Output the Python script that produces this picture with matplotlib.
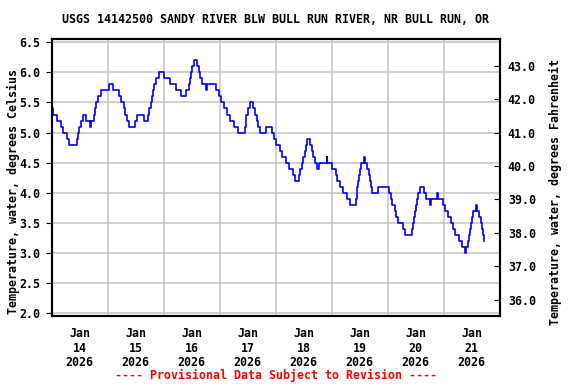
import datetime as dt
import matplotlib
matplotlib.use("Agg")
import matplotlib.pyplot as plt
import matplotlib.dates as mdates
from matplotlib.ticker import FormatStrFormatter, MultipleLocator

# change points: hours after 2026-01-14 00:00, temperature in deg C
hours = [0, 0.7, 2.4, 3.9, 5.0, 6.4, 7.6, 11.0, 11.4, 11.8, 12.6, 13.6, 14.6, 16.2, 16.8,
         18.0, 18.6, 19.1, 20.0, 21.1, 24.5, 26.1, 28.8, 29.8, 30.8, 31.6, 32.4, 33.2, 35.8,
         36.5, 39.7, 41.1, 41.7, 42.5, 43.0, 43.5, 44.0, 44.7, 46.0, 48.3, 50.7, 53.1, 55.4,
         57.7, 58.9, 59.2, 59.6, 60.3, 61.0, 62.3, 63.0, 63.6, 64.4, 66.0, 66.6, 70.3, 71.7,
         72.6, 73.9, 75.2, 76.6, 78.1, 80.0, 82.7, 83.1, 83.5, 84.0, 85.0, 86.4, 87.2, 88.0,
         88.6, 89.3, 91.9, 94.6, 95.3, 96.2, 97.9, 98.9, 100.5, 101.7, 103.3, 104.3, 105.9,
         106.6, 107.2, 107.9, 108.6, 109.2, 109.6, 110.7, 111.4, 112.2, 113.1, 113.9, 114.6,
         117.9, 118.2, 120.0, 121.9, 122.4, 123.6, 125.0, 126.4, 127.9, 130.4, 130.7, 131.1,
         131.4, 131.9, 132.3, 132.8, 133.9, 134.3, 135.3, 135.9, 136.4, 136.9, 137.4, 140.0,
         144.5, 145.3, 146.1, 147.0, 147.8, 148.5, 150.8, 151.6, 154.5, 155.0, 155.4, 155.7,
         156.0, 156.5, 157.1, 157.7, 159.6, 160.3, 162.4, 162.8, 165.2, 165.6, 167.9, 168.8,
         169.9, 171.0, 172.0, 172.8, 174.5, 175.8, 177.0, 177.7, 178.3, 178.9, 179.3, 179.7,
         180.1, 180.6, 181.8, 182.2, 183.0, 184.2, 184.7, 185.1, 185.4]
temp_c = [5.4, 5.3, 5.2, 5.1, 5.0, 4.9, 4.8, 4.9, 5.0, 5.1, 5.2, 5.3, 5.2, 5.1, 5.2,
          5.3, 5.4, 5.5, 5.6, 5.7, 5.8, 5.7, 5.6, 5.5, 5.4, 5.3, 5.2, 5.1, 5.2,
          5.3, 5.2, 5.3, 5.4, 5.5, 5.6, 5.7, 5.8, 5.9, 6.0, 5.9, 5.8, 5.7, 5.6,
          5.7, 5.8, 5.9, 6.0, 6.1, 6.2, 6.1, 6.0, 5.9, 5.8, 5.7, 5.8, 5.7, 5.6,
          5.5, 5.4, 5.3, 5.2, 5.1, 5.0, 5.1, 5.2, 5.3, 5.4, 5.5, 5.4, 5.3, 5.2,
          5.1, 5.0, 5.1, 5.0, 4.9, 4.8, 4.7, 4.6, 4.5, 4.4, 4.3, 4.2, 4.3,
          4.4, 4.5, 4.6, 4.7, 4.8, 4.9, 4.8, 4.7, 4.6, 4.5, 4.4, 4.5,
          4.6, 4.5, 4.4, 4.3, 4.2, 4.1, 4.0, 3.9, 3.8, 3.9, 4.0, 4.1,
          4.2, 4.3, 4.4, 4.5, 4.6, 4.5, 4.4, 4.3, 4.2, 4.1, 4.0, 4.1,
          4.0, 3.9, 3.8, 3.7, 3.6, 3.5, 3.4, 3.3, 3.4, 3.5, 3.6, 3.7,
          3.8, 3.9, 4.0, 4.1, 4.0, 3.9, 3.8, 3.9, 4.0, 3.9, 3.8, 3.7,
          3.6, 3.5, 3.4, 3.3, 3.2, 3.1, 3.0, 3.1, 3.2, 3.3, 3.4, 3.5,
          3.6, 3.7, 3.8, 3.7, 3.6, 3.5, 3.4, 3.3, 3.2]

start = dt.datetime(2026, 1, 14)
times = [start + dt.timedelta(hours=h) for h in hours]

title = "USGS 14142500 SANDY RIVER BLW BULL RUN RIVER, NR BULL RUN, OR"
ylabel_c = "Temperature, water, degrees Celsius"
ylabel_f = "Temperature, water, degrees Fahrenheit"
footer = "---- Provisional Data Subject to Revision ----"

font = dict(family="DejaVu Sans Mono", weight="bold", size=8.4)

fig = plt.figure(figsize=(5.76, 3.84), dpi=100)
ax = fig.add_axes([0.0898, 0.177, 0.7774, 0.7206])

ax.plot(times, temp_c, color="#0000ff", lw=1.2, drawstyle="steps-post", zorder=3)

ymin, ymax = 1.95, 6.55
ax.set_ylim(ymin, ymax)
ax.set_xlim(start, start + dt.timedelta(days=8))
ax.yaxis.set_major_locator(MultipleLocator(0.5))
ax.yaxis.set_major_formatter(FormatStrFormatter("%.1f"))

ax.xaxis.set_major_locator(mdates.DayLocator())
ax.xaxis.set_major_formatter(plt.NullFormatter())
ax.xaxis.set_minor_locator(mdates.HourLocator(byhour=12))
ax.xaxis.set_minor_formatter(mdates.DateFormatter("Jan\n%d\n%Y"))
ax.tick_params(axis="x", which="both", length=0, pad=8)
ax.tick_params(axis="y", length=4, pad=4)
for lab in ax.get_xticklabels(minor=True) + ax.get_yticklabels():
    lab.set_fontfamily(font["family"])
    lab.set_fontweight("bold")
    lab.set_fontsize(font["size"])
for lab in ax.get_xticklabels(minor=True):
    lab.set_linespacing(1.15)

ax.grid(True, which="major", color="#c8c8c8", lw=1.2)
for s in ax.spines.values():
    s.set_linewidth(1.5)

ax2 = ax.twinx()
ax2.set_ylim(ymin * 1.8 + 32, ymax * 1.8 + 32)
ax2.yaxis.set_major_locator(MultipleLocator(1.0))
ax2.yaxis.set_major_formatter(FormatStrFormatter("%.1f"))
ax2.tick_params(axis="y", direction="in", length=4, pad=6)
for lab in ax2.get_yticklabels():
    lab.set_fontfamily(font["family"])
    lab.set_fontweight("bold")
    lab.set_fontsize(font["size"])
for s in ax2.spines.values():
    s.set_linewidth(1.5)

fig.text(0.4785, 0.948, title, ha="center", va="center", **font)
fig.text(0.024, 0.5, ylabel_c, rotation=90, ha="center", va="center", **font)
fig.text(0.965, 0.5, ylabel_f, rotation=90, ha="center", va="center", **font)
fig.text(0.4785, 0.023, footer, ha="center", va="center", color="red", **font)

fig.savefig("out.png", dpi=100)
